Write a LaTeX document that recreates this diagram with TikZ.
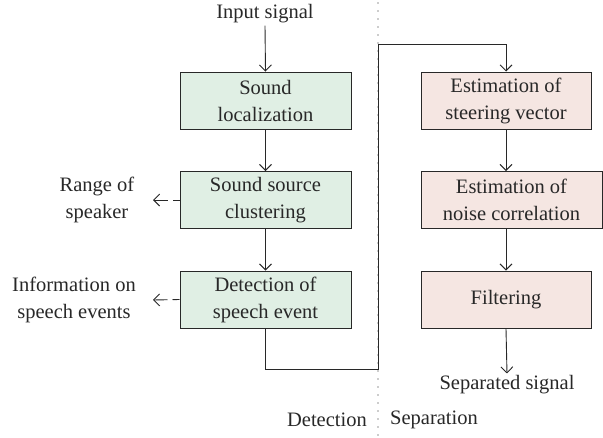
\documentclass[tikz,border=0pt]{standalone}
\usepackage{fontspec}
\setmainfont{Liberation Serif}
\usetikzlibrary{arrows.meta}
\definecolor{greenfill}{RGB}{224,239,228}
\definecolor{redfill}{RGB}{245,230,226}
\definecolor{ink}{RGB}{40,40,40}
\begin{document}
\begin{tikzpicture}[x=1pt,y=-1pt,
  every node/.style={font=\fontsize{20.5}{27}\selectfont, text=ink},
  box/.style={draw=ink, line width=1pt, minimum height=57pt, align=center, inner sep=0pt},
  gbox/.style={box, fill=greenfill, minimum width=171pt},
  rbox/.style={box, fill=redfill},
  txt/.style={align=center, inner sep=2pt},
  flow/.style={draw=ink, line width=0.9pt, -{Straight Barb[length=6pt,width=12pt]}},
  side/.style={flow, dash pattern=on 7pt off 5pt on 30pt off 0pt},
  divider/.style={draw=ink, line width=1.3pt, line cap=round, dash pattern=on 0pt off 8pt}]
\path[use as bounding box] (0,0) rectangle (603,437);

% section divider
\coordinate (dtop) at (378,3);
\coordinate (dbot) at (378,437);
\draw[divider] (dtop) -- (dbot);

% detection blocks
\node[txt] (in) at (265,14) {Input signal};
\node[gbox] (loc) at (265.5,100.5) {Sound\\localization};
\node[gbox] (clu) at (265.5,200) {Sound source\\clustering};
\node[gbox] (det) at (265.5,299.5) {Detection of\\speech event};

% separation blocks
\node[rbox, minimum width=170pt] (steer) at (506,100.5) {Estimation of\\steering vector};
\node[rbox, minimum width=181pt] (noise) at (511.5,200) {Estimation of\\noise correlation};
\node[rbox, minimum width=170pt] (filt) at (506,299.5) {Filtering};

% side outputs
\node[txt] (range) at (97,200) {Range of\\speaker};
\node[txt] (info) at (74,300) {Information on\\speech events};
\coordinate (rangetip) at (153,200);
\coordinate (infotip) at (153,300);

% final output and section names
\node[txt] (out) at (507,385) {Separated signal};
\node[txt, anchor=east] (detl) at (369,420) {Detection};
\node[txt, anchor=west] (sepl) at (388,420) {Separation};

% detection chain
\draw[flow] (in.south) -- (loc.north);
\draw[flow] (loc.south) -- (clu.north);
\draw[flow] (clu.south) -- (det.north);
\draw[side] (clu.west) -- (rangetip);
\draw[side] (det.west) -- (infotip);

% link into separation
\coordinate (lowturn) at (378,369);
\coordinate (highturn) at (506,44);
\draw[flow] (det.south) |- (lowturn) |- (highturn) -- (steer.north);

% separation chain
\draw[flow] (steer.south) -- (steer.south |- noise.north);
\draw[flow] (steer.south |- noise.south) -- (filt.north);
\draw[flow] (filt.south) -- (out.north);
\end{tikzpicture}
\end{document}
